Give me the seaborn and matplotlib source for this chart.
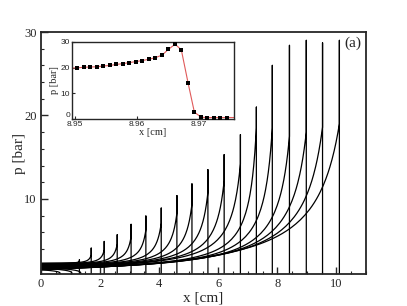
import numpy as np
import pandas as pd
import matplotlib
matplotlib.use("Agg")
import matplotlib.pyplot as plt
import seaborn as sns
from matplotlib.ticker import MultipleLocator

# Pressure profiles, one entry per time step
shock_x = [1.30, 1.70, 2.14, 2.58, 3.05, 3.55, 4.07, 4.60, 5.11, 5.65,
           6.20, 6.75, 7.29, 7.83, 8.41, 8.98, 9.53, 10.10]
peak_p = [2.7, 4.1, 4.9, 5.7, 6.95, 7.95, 8.9, 10.4, 11.8, 13.5,
          15.3, 17.7, 21.0, 26.0, 28.4, 29.0, 28.7, 29.0]
foot_p = [2.5, 3.3, 3.9, 4.6, 5.5, 6.3, 7.1, 8.3, 9.4, 10.8,
          12.2, 14.2, 18.5, 18.5, 17.5, 18.0, 18.6, 19.0]
start_p = [2.3, 2.25, 2.2, 2.15, 2.1, 2.05, 2.0, 1.95, 1.9, 1.85,
           1.8, 1.75, 1.7, 1.65, 1.62, 1.58, 1.55, 1.5]
sharp = [0.05, 0.05, 0.05, 0.05, 0.05, 0.05, 0.05, 0.05, 0.05, 0.05,
         0.05, 0.05, 0.035, 0.04, 0.05, 0.06, 0.07, 0.085]

# early profiles that fall off to ambient before the spike forms
early_front = [0.65, 1.05, 1.35]
early_start = [1.5, 1.7, 1.8]
ambient_p = 1.0

# inset: zoom on the front at x ~ 8.97 cm
inset_x = [8.9504, 8.9515, 8.9525, 8.9536, 8.9546, 8.9557, 8.9567, 8.9578,
           8.9588, 8.9599, 8.9609, 8.9620, 8.9630, 8.9641, 8.9651, 8.9662,
           8.9672, 8.9683, 8.9693, 8.9704, 8.9714, 8.9725, 8.9735, 8.9746]
inset_p = [19.9, 20.1, 20.2, 20.3, 20.6, 20.8, 21.2, 21.5, 21.9, 22.3,
           22.7, 23.2, 23.8, 24.8, 27.0, 29.0, 26.8, 13.9, 2.8, 0.8,
           0.7, 0.7, 0.7, 0.7]
edge_x = [8.9490, 8.9760]
edge_p = [19.7, 0.7]

sns.set_style("ticks")
plt.rcParams["font.family"] = ["Liberation Serif", "DejaVu Serif"]

# build long table of curves
u = np.concatenate([np.linspace(1, 0.1, 60), np.geomspace(0.1, 1e-4, 80)[1:]])
rows = []
for i in range(len(shock_x)):
    xs, c = shock_x[i], sharp[i]
    frac = (c / (u + c) - c / (1 + c)) / (1 - c / (1 + c))
    p = start_p[i] + (foot_p[i] - start_p[i]) * frac
    xx = list(xs * (1 - u)) + [xs, xs, xs]
    pp = list(p) + [foot_p[i], peak_p[i], 0.5]
    for a, b in zip(xx, pp):
        rows.append((i, a, b))
for j in range(len(early_front)):
    xf = early_front[j]
    p = ambient_p + (early_start[j] - ambient_p) * u ** 0.3
    for a, b in zip(xf * (1 - u), p):
        rows.append((100 + j, a, b))
df = pd.DataFrame(rows, columns=["curve", "x", "p"])

fig = plt.figure(figsize=(4.07, 3.06), dpi=100)
ax = fig.add_axes([0.1007, 0.1046, 0.7985, 0.7908])

sns.lineplot(data=df, x="x", y="p", units="curve", estimator=None,
             sort=False, color="black", lw=0.9, ax=ax, legend=False)

ax.set_xlim(0, 11)
ax.set_ylim(1, 30)
ax.set_xticks([0, 2, 4, 6, 8, 10])
ax.set_yticks([10, 20, 30])
ax.xaxis.set_minor_locator(MultipleLocator(0.5))
ax.yaxis.set_minor_locator(MultipleLocator(2))
ax.tick_params(which="both", direction="in", top=False, right=False,
               labelsize=9, pad=3)
ax.tick_params(which="major", length=5, width=1)
ax.tick_params(which="minor", length=2.5, width=0.8)
for s in ax.spines.values():
    s.set_linewidth(1.3)
ax.set_xlabel("x [cm]", fontsize=11, labelpad=1)
ax.set_ylabel("p [bar]", fontsize=11, labelpad=-1)
ax.text(0.96, 0.955, "(a)", transform=ax.transAxes, fontsize=11,
        ha="center", va="center")

# inset
axi = fig.add_axes([0.176, 0.610, 0.399, 0.254])
sns.lineplot(x=[edge_x[0]] + inset_x + [edge_x[1]],
             y=[edge_p[0]] + inset_p + [edge_p[1]],
             sort=False, color="#e05a5a", lw=0.8, ax=axi)
sns.scatterplot(x=inset_x, y=inset_p, marker="s", color="black",
                s=9, linewidth=0, ax=axi, zorder=3)
axi.set_xlim(8.9495, 8.9757)
axi.set_ylim(0, 30)
axi.set_xticks([8.95, 8.96, 8.97])
axi.set_xticklabels(["8.95", "8.96", "8.97"])
axi.set_yticks([0, 10, 20, 30])
axi.tick_params(direction="in", length=2.5, width=0.8, labelsize=6, pad=1)
for lab in axi.get_xticklabels() + axi.get_yticklabels():
    lab.set_family(["Liberation Sans", "DejaVu Sans"])
axi.get_yticklabels()[0].set_va("bottom")
for s in axi.spines.values():
    s.set_linewidth(1.0)
axi.set_xlabel("x [cm]", fontsize=7.5, labelpad=0)
axi.set_ylabel("p [bar]", fontsize=7.5, labelpad=1)
axi.set_facecolor("white")

fig.savefig("out.png", dpi=100)
